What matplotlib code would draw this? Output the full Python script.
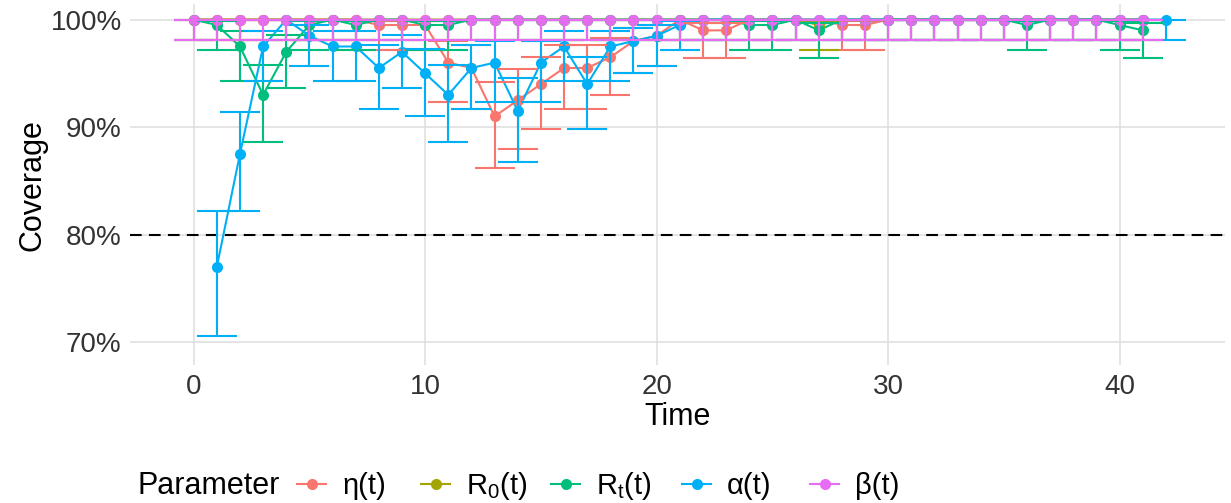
import matplotlib
matplotlib.use("Agg")
import matplotlib.pyplot as plt
from matplotlib.lines import Line2D
import numpy as np

plt.rcParams['font.family'] = ['Liberation Sans', 'DejaVu Sans']
plt.rcParams['mathtext.fontset'] = 'custom'
plt.rcParams['mathtext.rm'] = 'Liberation Sans'

# coverage (%) per time point
time_main = list(range(0, 42))
time_alpha = list(range(1, 43))

eta = [100, 100, 100, 100, 100, 100, 100, 100, 99.5, 99.5,
       99.5, 96.0, 95.5, 91.0, 92.5, 94.0, 95.5, 95.5, 96.5, 98.0,
       98.5, 100, 99.0, 99.0, 100, 100, 100, 100, 99.5, 99.5,
       100, 100, 100, 100, 100, 100, 100, 100, 100, 100,
       100, 100]
r0 = [100] * 27 + [99.5] + [100] * 14
rt = [100, 99.5, 97.5, 93.0, 97.0, 99.5, 100, 99.5, 100, 100,
      99.5, 99.5, 100, 100, 100, 100, 100, 100, 100, 100,
      100, 100, 100, 100, 99.5, 99.5, 100, 99.0, 100, 100,
      100, 100, 100, 100, 100, 100, 99.5, 100, 100, 100,
      99.5, 99.0]
alpha = [77.0, 87.5, 97.5, 100, 98.5, 97.5, 97.5, 95.5, 97.0, 95.0,
         93.0, 95.5, 96.0, 91.5, 96.0, 97.5, 94.0, 97.5, 98.0, 98.5,
         99.5, 100, 100, 100, 100, 100, 100, 100, 100, 100,
         100, 100, 100, 100, 100, 100, 100, 100, 100, 100,
         100, 100]
beta = [100] * 42

# interval ends (%), by coverage level
ci_lower = {100: 98.1, 99.5: 97.2, 99.0: 96.4, 98.5: 95.7, 98.0: 95.0,
            97.5: 94.3, 97.0: 93.6, 96.5: 93.0, 96.0: 92.3, 95.5: 91.7,
            95.0: 91.0, 94.0: 89.8, 93.0: 88.6, 92.5: 88.0, 91.5: 86.8,
            91.0: 86.2, 87.5: 82.2, 77.0: 70.6}
ci_upper = {100: 100.0, 99.5: 99.9, 99.0: 99.7, 98.5: 99.5, 98.0: 99.2,
            97.5: 98.9, 97.0: 98.6, 96.5: 98.3, 96.0: 98.0, 95.5: 97.6,
            95.0: 97.3, 94.0: 96.5, 93.0: 95.8, 92.5: 95.4, 91.5: 94.6,
            91.0: 94.2, 87.5: 91.4, 77.0: 82.2}

labels = ['η(t)', r'R$_\mathrm{0}$(t)', r'R$_\mathrm{t}$(t)', 'α(t)', 'β(t)']
colors = ['#F8766D', '#A3A500', '#00BF7D', '#00B0F6', '#E76BF3']
series = [(time_main, eta), (time_main, r0), (time_main, rt),
          (time_alpha, alpha), (time_main, beta)]

fig = plt.figure(figsize=(12.31, 5.03), dpi=100)
ax = fig.add_axes([0.1056, 0.274, 0.8895, 0.718])

# lines first, then points, then error bars (like the ggplot layers)
for (t, cov), c in zip(series, colors):
    ax.plot(t, cov, color=c, lw=1.5, zorder=2)
for (t, cov), c in zip(series, colors):
    ax.plot(t, cov, 'o', color=c, ms=8, mec='none', zorder=3)
for (t, cov), c in zip(series, colors):
    cov = np.array(cov)
    lo = np.array([ci_lower[v] for v in cov])
    hi = np.array([ci_upper[v] for v in cov])
    ax.errorbar(t, cov, yerr=[cov - lo, hi - cov], fmt='none', ecolor=c,
                elinewidth=1.5, capsize=14.5, capthick=1.5, zorder=4)

ax.axhline(80, color='black', ls=(0, (5.6, 3.5)), lw=1.5, zorder=1.5)

ax.set_xlim(-2.75, 44.55)
ax.set_ylim(67.86, 101.45)
ax.set_xticks([0, 10, 20, 30, 40])
ax.set_yticks([70, 80, 90, 100])
ax.set_yticklabels(['70%', '80%', '90%', '100%'])
ax.grid(True, color='#DEDEDE', lw=1.1)
ax.set_axisbelow(True)
for s in ax.spines.values():
    s.set_visible(False)
ax.tick_params(length=0, labelsize=20, labelcolor='#333333')
ax.tick_params(axis='y', pad=6)
ax.tick_params(axis='x', pad=6)
ax.set_xlabel('Time', fontsize=22, labelpad=2)
ax.set_ylabel('Coverage', fontsize=22, labelpad=2)

# legend along the bottom: title, then one key per parameter
legend_y = 1 - 486 / 503
fig.text(137 / 1231, legend_y, 'Parameter', fontsize=22, va='center')
key_left = [297, 421, 551, 682, 810]
for c, lab, x0 in zip(colors, labels, key_left):
    h = Line2D([], [], color=c, lw=1.5, marker='o', ms=8, mec='none')
    fig.legend([h], [lab], loc='center left', bbox_to_anchor=(x0 / 1231, legend_y),
               frameon=False, fontsize=21, handlelength=1.0, handletextpad=0.55,
               borderpad=0, borderaxespad=0)

plt.savefig('out.png', dpi=100)
